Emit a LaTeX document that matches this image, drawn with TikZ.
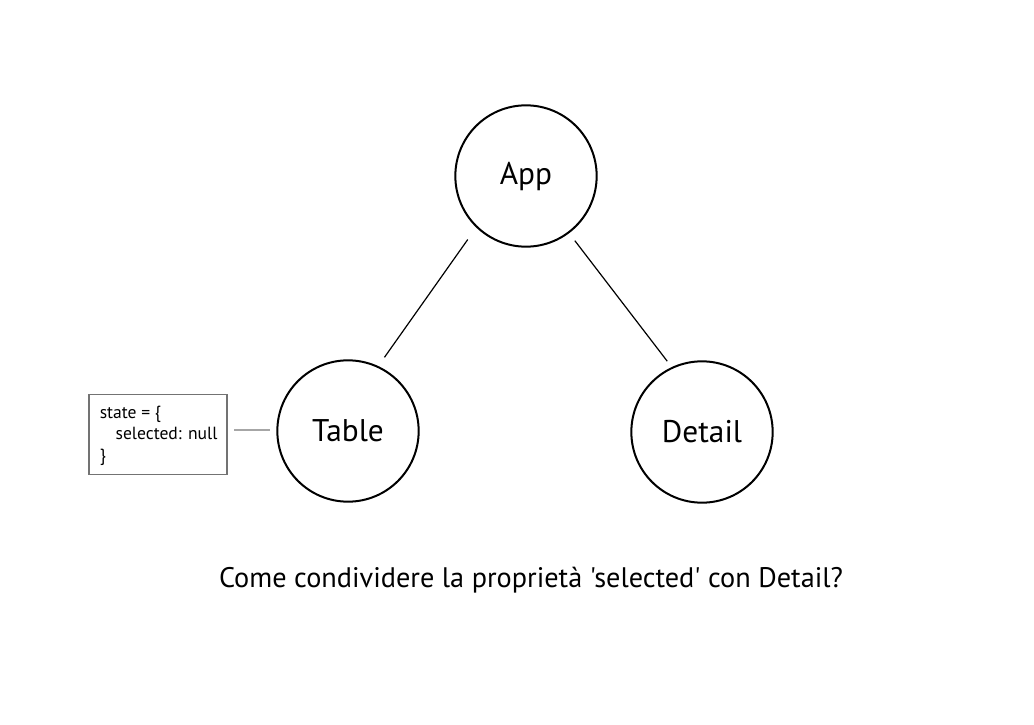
\documentclass[tikz,border=0pt]{standalone}
\usepackage{fontspec}
\setmainfont{PT Sans}[Ligatures=TeXOff]
\begin{document}
\begin{tikzpicture}[x=0.75pt,y=-0.75pt,
  comp/.style={circle,draw=black,line width=1.5pt,minimum size=106pt,inner sep=0pt,font=\fontsize{23.5}{28}\selectfont},
  link/.style={draw=black,line width=0.9pt},
  statebox/.style={draw=black!55,line width=1.3pt,minimum width=104pt,minimum height=60pt,inner sep=0pt},
  note/.style={draw=black!35,line width=0.8pt}]
\useasboundingbox (0,0) rectangle (1034,724);
\node[comp] (app) at (526,176) {App};
\node[comp] (table) at (348,431) {Table};
\node[comp] (detail) at (702,432) {Detail};
\draw[link,shorten <=11pt,shorten >=8pt] (app.226) -- (table.65);
\draw[link,shorten <=7pt,shorten >=5.5pt] (app.307) -- (detail.115);
\node[statebox] (state) at (158,434.5) {};
\node[anchor=north west,align=left,inner sep=0pt,font=\fontsize{13.2}{16}\selectfont] (statetext) at (99.5,406) {state = \{\\\hspace{0.9em}selected: null\\\}};
\coordinate (noteA) at (234,430);
\draw[note,shorten >=5pt] (noteA) -- (noteA -| table.west);
\node[font=\fontsize{21.2}{25}\selectfont] (question) at (531,580) {Come condividere la proprietà 'selected' con Detail?};
\end{tikzpicture}
\end{document}
